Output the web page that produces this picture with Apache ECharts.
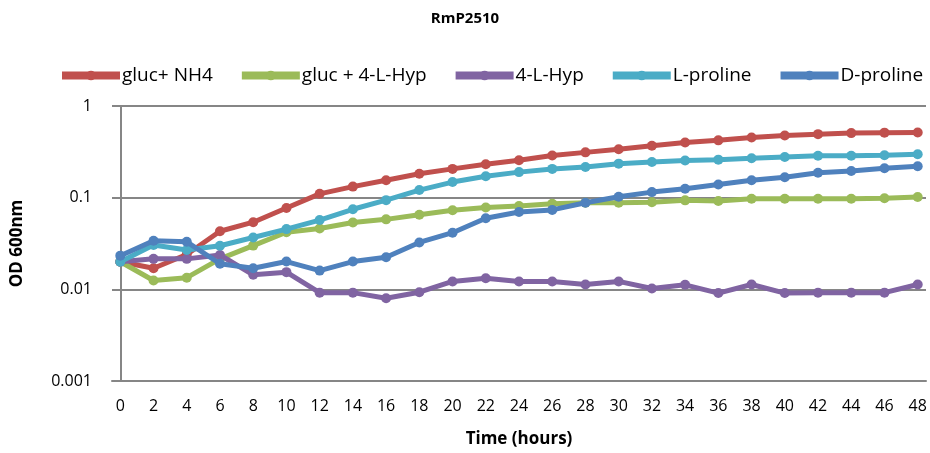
<!DOCTYPE html>
<html>
<head>
<meta charset="utf-8">
<script src="https://cdn.jsdelivr.net/npm/echarts@6/dist/echarts.min.js"></script>
<style>html,body{margin:0;padding:0;background:#fff}#c{width:930px;height:453px}</style>
</head>
<body>
<div id="c"></div>
<script>
var hours = [0,2,4,6,8,10,12,14,16,18,20,22,24,26,28,30,32,34,36,38,40,42,44,46,48];
var seriesNames = ['gluc+ NH4', 'gluc + 4-L-Hyp', '4-L-Hyp', 'L-proline', 'D-proline'];
var glucNH4 = [0.020,0.017,0.024,0.043,0.054,0.077,0.11,0.132,0.155,0.182,0.206,0.232,0.256,0.288,0.312,0.338,0.368,0.40,0.422,0.454,0.477,0.493,0.506,0.512,0.514];
var glucHyp = [0.020,0.0125,0.0134,0.0215,0.030,0.042,0.046,0.0536,0.058,0.065,0.073,0.078,0.081,0.086,0.088,0.088,0.089,0.0935,0.092,0.0975,0.0975,0.0975,0.0975,0.0985,0.1016];
var hyp = [0.020,0.0215,0.0215,0.0237,0.0144,0.0154,0.0092,0.0092,0.0080,0.0093,0.0122,0.0132,0.0122,0.0122,0.0113,0.0122,0.0102,0.0112,0.0091,0.0113,0.0091,0.0092,0.0092,0.0092,0.0113];
var lProline = [0.020,0.0304,0.0268,0.0299,0.0368,0.0454,0.057,0.0747,0.094,0.121,0.148,0.171,0.19,0.206,0.216,0.235,0.245,0.254,0.26,0.269,0.278,0.287,0.287,0.29,0.297];
var dProline = [0.0233,0.0339,0.033,0.019,0.017,0.0201,0.016,0.0201,0.0224,0.0325,0.0415,0.0597,0.0699,0.0735,0.088,0.1025,0.115,0.125,0.139,0.155,0.167,0.187,0.195,0.209,0.22];
var colors = ['#C0504D','#9BBB59','#8064A2','#4BACC6','#4F81BD'];
var xTickLabels = hours.slice();
var yTickLabels = {'1':'1','0.1':'0.1','0.01':'0.01','0.001':'0.001'};

var allData = [glucNH4, glucHyp, hyp, lProline, dProline];
function pairs(arr){ return arr.map(function(v,i){ return [hours[i], v]; }); }

var chart = echarts.init(document.getElementById('c'));
var font = '"Open Sans", "Liberation Sans", sans-serif';
chart.setOption({
  animation: false,
  color: colors,
  textStyle: { fontFamily: font },
  title: {
    text: 'RmP2510', left: 'center', top: 6,
    textStyle: { fontFamily: font, fontSize: 15, fontWeight: 'bold', color: '#000' }
  },
  legend: {
    top: 61, left: 53, width: 900,
    itemWidth: 58, itemHeight: 12, itemGap: 25,
    lineStyle: { width: 8 },
    textStyle: { fontFamily: font, fontSize: 19, color: '#000', padding: [0,0,0,-3] },
    data: seriesNames
  },
  grid: { left: 112, right: 4, top: 106, bottom: 70 },
  xAxis: {
    type: 'value', min: -0.5, max: 48.5,
    name: 'Time (hours)', nameLocation: 'middle', nameGap: 50,
    nameTextStyle: { fontFamily: font, fontSize: 17, fontWeight: 'bold', color: '#000' },
    axisLine: { show: true, lineStyle: { color: '#868686', width: 2 } },
    axisTick: { show: false },
    splitLine: { show: false },
    axisLabel: { customValues: xTickLabels, color: '#000', fontSize: 16, margin: 17, fontFamily: font }
  },
  yAxis: {
    type: 'log', logBase: 10, min: 0.001, max: 1,
    name: 'OD 600nm', nameLocation: 'middle', nameGap: 86, nameRotate: 90,
    nameTextStyle: { fontFamily: font, fontSize: 17, fontWeight: 'bold', color: '#000' },
    axisLine: { show: true, lineStyle: { color: '#868686', width: 2 } },
    axisTick: { show: true, length: 6, lineStyle: { color: '#868686', width: 2 } },
    splitLine: { show: true, lineStyle: { color: '#868686', width: 2 } },
    axisLabel: {
      color: '#000', fontSize: 16, margin: 20, fontFamily: font,
      formatter: function(v){ var k = String(+v.toPrecision(3)); return yTickLabels[k] || k; }
    }
  },
  series: allData.map(function(d, i){
    return {
      name: seriesNames[i], type: 'line', data: pairs(d),
      symbol: 'circle', symbolSize: 10,
      lineStyle: { width: 5, color: colors[i] },
      itemStyle: { color: colors[i] },
      z: 2 + i
    };
  })
});
</script>
</body>
</html>
